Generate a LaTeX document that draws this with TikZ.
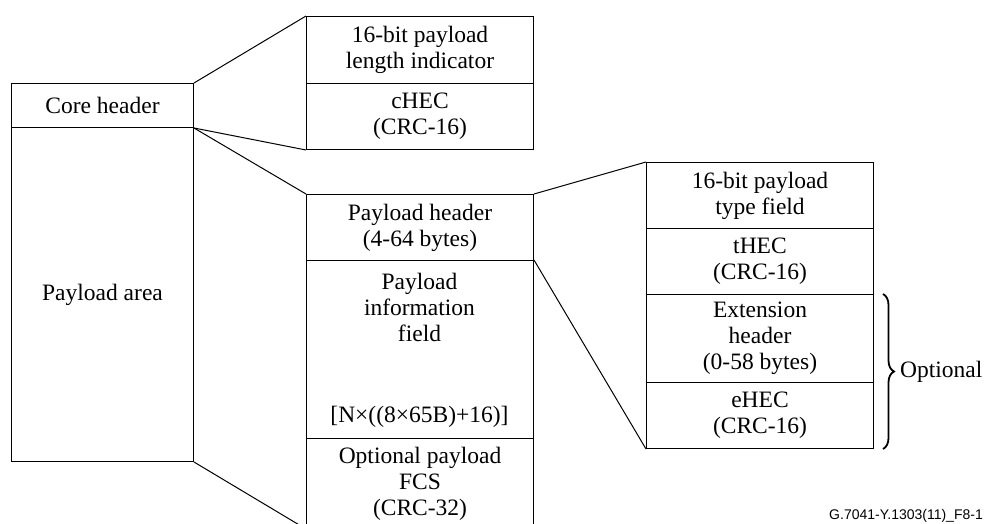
\documentclass[tikz,border=0pt]{standalone}
\usepackage{fontspec}
\setmainfont{Liberation Serif}
\newfontfamily\labelfont{Liberation Sans}
\usetikzlibrary{decorations.pathreplacing}
\begin{document}
\begin{tikzpicture}[x=1pt,y=-1pt,
  every node/.style={font=\fontsize{23.5}{26}\selectfont, inner sep=0pt, align=center},
  box/.style={draw, line width=1pt, anchor=north west},
  link/.style={line width=1pt},
  lbl/.style={}]
\useasboundingbox (0,0) rectangle (984,524);
\clip (0,0) rectangle (984,524);
% left column
\node[box, minimum width=182pt, minimum height=44pt] (core) at (11,83) {Core header};
\node[box, minimum width=182pt, minimum height=334pt] (area) at (11,127) {Payload area};
% top group
\node[box, minimum width=227pt, minimum height=67pt] (len) at (306,16) {16-bit payload\\length indicator};
\node[box, minimum width=227pt, minimum height=66pt] (chec) at (306,83) {cHEC\\(CRC-16)};
% middle column
\node[box, minimum width=227pt, minimum height=66pt] (ph) at (306,194) {Payload header\\(4-64 bytes)};
\node[box, minimum width=227pt, minimum height=178pt] (pif) at (306,260) {};
\node[lbl] (piftext) at (419.5,307) {Payload\\information\\field};
\node[lbl] (pifsize) at (419.5,417) {[N×((8×65B)+16)]};
\node[box, minimum width=227pt, minimum height=90pt] (fcs) at (306,438) {Optional payload\\FCS\\(CRC-32)};
% right column
\node[box, minimum width=227pt, minimum height=66pt] (ptf) at (646,162) {16-bit payload\\type field};
\node[box, minimum width=227pt, minimum height=66pt] (thec) at (646,228) {tHEC\\(CRC-16)};
\node[box, minimum width=227pt, minimum height=88pt] (ext) at (646,294) {Extension\\header\\(0-58 bytes)};
\node[box, minimum width=227pt, minimum height=66pt] (ehec) at (646,382) {eHEC\\(CRC-16)};
% connectors
\draw[link] (core.north east) -- (len.north west);
\draw[link] (core.south east) -- (chec.south west);
\draw[link] (core.south east) -- (ph.north west);
\draw[link] (area.south east) -- (fcs.south west);
\draw[link] (ph.north east) -- (ptf.north west);
\draw[link] (pif.north east) -- (ehec.south west);
% brace
\coordinate (bt) at ([xshift=9pt]ext.north east);
\coordinate (bb) at ([xshift=9pt]ehec.south east);
\draw[line width=1.8pt, decorate, decoration={brace, amplitude=11pt}] (bt) -- (bb);
\node[anchor=west] (opt) at (900,372) {Optional};
% footer
\node[anchor=east, font=\labelfont\fontsize{14}{16}\selectfont] (foot) at (983,516) {G.7041-Y.1303(11)\_F8-1};
\end{tikzpicture}
\end{document}
